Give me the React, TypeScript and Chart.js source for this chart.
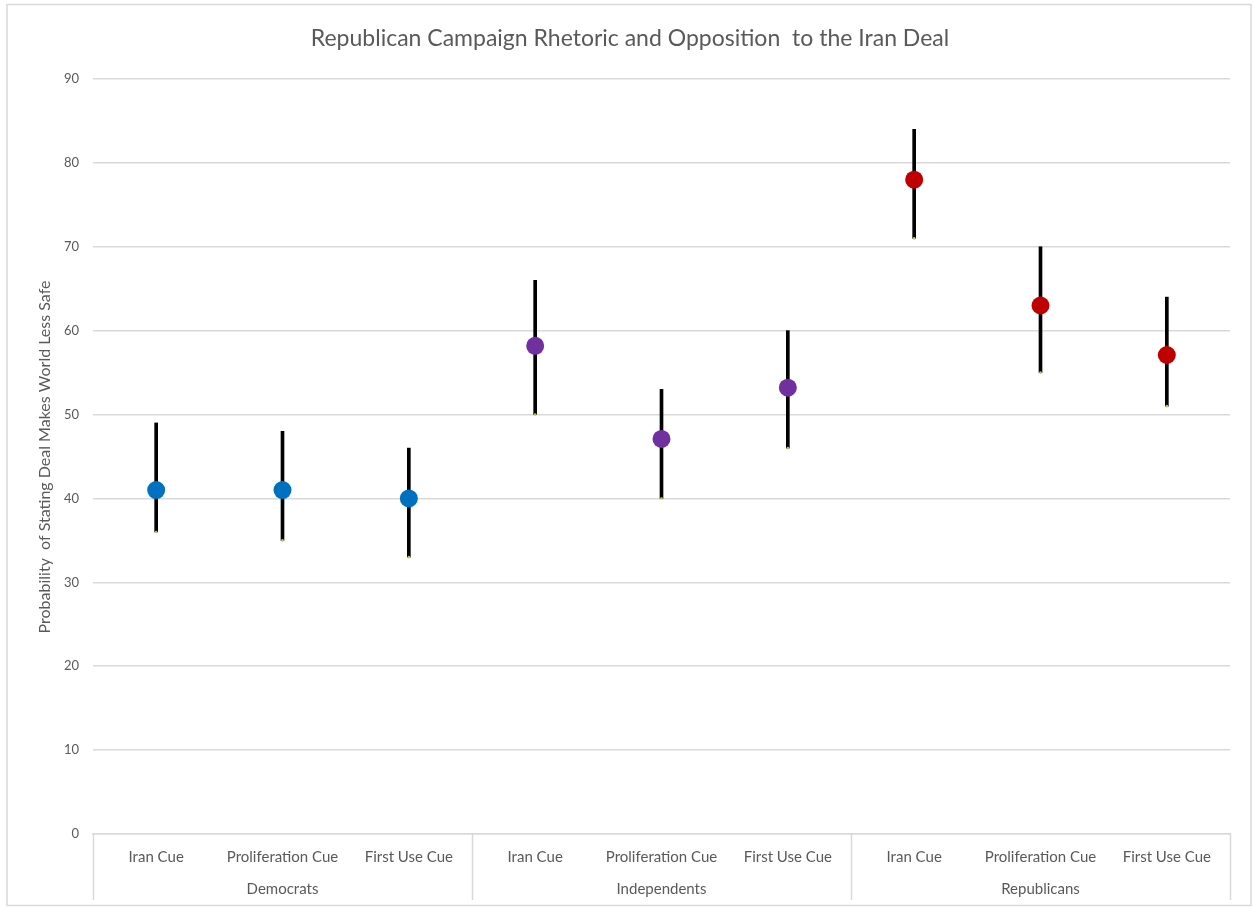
import React, { useEffect, useRef } from "react";
import { Chart, registerables } from "chart.js";

Chart.register(...registerables);

// Cue conditions within each party group
const cues = ["Iran Cue", "Proliferation Cue", "First Use Cue"];
const groups = ["Democrats", "Independents", "Republicans"];

// Estimated probability (%) and confidence bounds for each party × cue
const democratsEst = [41, 41, 40];
const democratsLow = [36, 35, 33];
const democratsHigh = [49, 48, 46];

const independentsEst = [58.2, 47.1, 53.2];
const independentsLow = [50, 40, 46];
const independentsHigh = [66, 53, 60];

const republicansEst = [78, 63, 57.1];
const republicansLow = [71, 55, 51];
const republicansHigh = [84, 70, 64];

const groupColors = ["#0070C0", "#7030A0", "#C00000"];

const yTicks = [0, 10, 20, 30, 40, 50, 60, 70, 80, 90];

const FONT = "Lato, 'Open Sans', 'DejaVu Sans', sans-serif";
const TEXT = "#595959";
const GRID = "#d9d9d9";

export default function App() {
  const canvasRef = useRef<HTMLCanvasElement | null>(null);

  useEffect(() => {
    document.body.style.margin = "0";
    const canvas = canvasRef.current;
    if (!canvas) return;

    const labels: string[] = [];
    groups.forEach((g) => cues.forEach((c) => labels.push(g + "|" + c)));

    const est = [...democratsEst, ...independentsEst, ...republicansEst];
    const low = [...democratsLow, ...independentsLow, ...republicansLow];
    const high = [...democratsHigh, ...independentsHigh, ...republicansHigh];
    const pointColors = labels.map((_, i) => groupColors[Math.floor(i / cues.length)]);

    const framePlugin = {
      id: "frameAndLabels",
      beforeDraw(chart: any) {
        const ctx = chart.ctx;
        ctx.save();
        ctx.fillStyle = "#ffffff";
        ctx.fillRect(0, 0, chart.width, chart.height);
        ctx.strokeStyle = GRID;
        ctx.lineWidth = 1.5;
        ctx.strokeRect(7, 4.5, chart.width - 9, chart.height - 6);
        ctx.restore();
      },
      afterDraw(chart: any) {
        const ctx = chart.ctx;
        const area = chart.chartArea;
        const xs = chart.scales.x;
        ctx.save();
        // Title
        ctx.fillStyle = TEXT;
        ctx.font = `23px ${FONT}`;
        ctx.textAlign = "center";
        ctx.textBaseline = "middle";
        ctx.fillText("Republican Campaign Rhetoric and Opposition  to the Iran Deal", 630, 39);

        // Vertical axis title
        ctx.save();
        ctx.translate(45, 457);
        ctx.rotate(-Math.PI / 2);
        ctx.font = `16px ${FONT}`;
        ctx.fillText("Probability  of Stating Deal Makes World Less Safe", 0, 0);
        ctx.restore();

        // Two-level category labels
        ctx.font = `15px ${FONT}`;
        labels.forEach((l, i) => {
          const cue = l.split("|")[1];
          ctx.fillText(cue, xs.getPixelForValue(i), 857);
        });
        const step = (area.right - area.left) / labels.length;
        groups.forEach((g, gi) => {
          const cx = area.left + step * (gi * cues.length + cues.length / 2);
          ctx.fillText(g, cx, 889);
        });

        // Group separators below the axis
        ctx.strokeStyle = GRID;
        ctx.lineWidth = 1.5;
        for (let k = 0; k <= groups.length; k++) {
          const x = Math.round(area.left + step * k * cues.length) + 0.5;
          ctx.beginPath();
          ctx.moveTo(x, area.bottom);
          ctx.lineTo(x, 900);
          ctx.stroke();
        }
        ctx.restore();
      },
    };

    const chart = new Chart(canvas, {
      type: "bar",
      data: {
        labels,
        datasets: [
          {
            type: "line",
            label: "Estimate",
            data: est,
            showLine: false,
            pointRadius: 9,
            pointHoverRadius: 9,
            pointBackgroundColor: pointColors,
            pointBorderColor: pointColors,
            pointBorderWidth: 0,
            order: 0,
          } as any,
          {
            type: "line",
            label: "Lower bound",
            data: low,
            showLine: false,
            pointRadius: 1.3,
            pointBackgroundColor: "#b5cc5a",
            pointBorderWidth: 0,
            order: 1,
          } as any,
          {
            type: "bar",
            label: "Interval",
            data: low.map((v, i) => [v, high[i]]),
            backgroundColor: "#000000",
            borderWidth: 0,
            barThickness: 3,
            grouped: false,
            order: 2,
          } as any,
        ],
      },
      options: {
        animation: false,
        responsive: false,
        maintainAspectRatio: false,
        layout: { padding: { left: 0, top: 79, right: 23, bottom: 0 } },
        plugins: {
          legend: { display: false },
          title: { display: false },
          tooltip: { enabled: false },
        },
        scales: {
          x: {
            type: "category",
            offset: true,
            grid: { display: false, drawTicks: false },
            border: { display: true, color: GRID, width: 1.5 },
            ticks: { display: false },
            afterFit(scale: any) {
              scale.height = 907 - 834;
            },
          },
          y: {
            type: "linear",
            min: 0,
            max: 90,
            afterBuildTicks(scale: any) {
              scale.ticks = yTicks.map((v) => ({ value: v }));
            },
            grid: { color: GRID, lineWidth: 1.5, drawTicks: false },
            border: { display: false },
            ticks: {
              color: TEXT,
              padding: 14,
              font: { family: FONT, size: 13 },
            },
            afterFit(scale: any) {
              scale.width = 93;
            },
          },
        },
      },
      plugins: [framePlugin],
    });

    return () => chart.destroy();
  }, []);

  return (
    <div style={{ width: 1253, height: 907 }}>
      <canvas ref={canvasRef} width={1253} height={907} />
    </div>
  );
}
